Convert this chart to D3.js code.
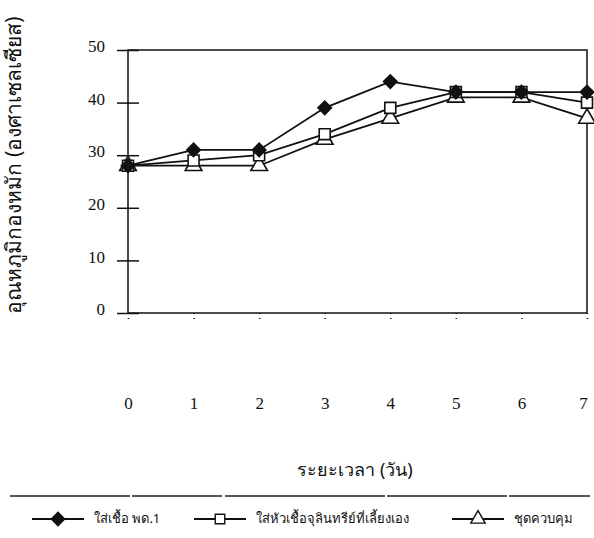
<!DOCTYPE html>
<html>
<head>
<meta charset="utf-8">
<script src="https://cdn.jsdelivr.net/npm/d3@7"></script>
<style>
  body { margin: 0; background: #fff; }
  svg { display: block; }
  text { font-family: "Liberation Serif", "DejaVu Serif", serif; fill: #111; }
  .thai { font-family: "Noto Sans", "DejaVu Sans", sans-serif; }
</style>
</head>
<body>
<div id="chart"></div>
<script>
// วัน
var days = [0, 1, 2, 3, 4, 5, 6, 7];
var yTicks = [0, 10, 20, 30, 40, 50];
// อุณหภูมิ
var seriesA = [28, 31, 31, 39, 44, 42, 42, 42];
var seriesB = [28, 29, 30, 34, 39, 42, 42, 40];
var seriesC = [28, 28, 28, 33, 37, 41, 41, 37];
var seriesNames = ["ใส่เชื้อ พด.1", "ใส่หัวเชื้อจุลินทรีย์ที่เลี้ยงเอง", "ชุดควบคุม"];
var yTitle = "อุณหภูมิกองหมัก (องศาเซลเซียส)";
var xTitle = "ระยะเวลา (วัน)";

var W = 594, H = 538;
var svg = d3.select("#chart").append("svg").attr("width", W).attr("height", H);

var x = d3.scaleLinear().domain([0, 7]).range([128, 587]);
var y = d3.scaleLinear().domain([0, 50]).range([313, 50]);

// frame
svg.append("rect")
    .attr("x", x(0)).attr("y", y(50))
    .attr("width", x(7) - x(0)).attr("height", y(0) - y(50))
    .style("fill", "none").style("stroke", "#111").style("stroke-width", 1.5);

// y axis, ticks cross the axis line
var yAxis = svg.append("g")
    .attr("transform", "translate(" + (x(0) + 11) + ",0)")
    .call(d3.axisLeft(y).tickValues(yTicks).tickSize(22).tickPadding(12).tickFormat(d3.format("d")));
yAxis.select(".domain").remove();
yAxis.selectAll("line").style("stroke", "#111").style("stroke-width", 1.5);
yAxis.selectAll("text").style("font-size", "17px").style("font-family", "Liberation Serif").attr("dy", "0.1em");

// x axis: small ticks under bottom line, labels further down
var xAxis = svg.append("g")
    .attr("transform", "translate(0," + y(0) + ")")
    .call(d3.axisBottom(x).tickValues(days).tickSize(6).tickPadding(78).tickFormat(d3.format("d")));
xAxis.select(".domain").remove();
xAxis.selectAll("line").style("stroke", "#111").style("stroke-width", 1.5).style("stroke-dasharray", "1,4");
xAxis.selectAll("text").style("font-size", "17px").style("font-family", "Liberation Serif")
    .attr("dx", function (d) { return d == 7 ? -4 : 0; });

// titles
svg.append("text").attr("class", "thai")
    .attr("transform", "translate(21,165) rotate(-90)")
    .attr("text-anchor", "middle")
    .style("font-size", "21px")
    .text(yTitle);
svg.append("text").attr("class", "thai")
    .attr("x", 355).attr("y", 476)
    .attr("text-anchor", "middle")
    .style("font-size", "18px")
    .text(xTitle);

var line = d3.line().x(function (d, i) { return x(days[i]); }).y(function (d) { return y(d); });
var allSeries = [seriesC, seriesB, seriesA];
var shapes = [d3.symbolTriangle, d3.symbolSquare, d3.symbolSquare];
var rot = [0, 0, 45];
var fills = ["#fff", "#fff", "#111"];
var sizes = [120, 120, 90];

allSeries.forEach(function (s) {
    svg.append("path").attr("d", line(s))
        .style("fill", "none").style("stroke", "#111").style("stroke-width", 1.8);
});
allSeries.forEach(function (s, k) {
    svg.selectAll(null).data(s).enter().append("path")
        .attr("transform", function (d, i) { return "translate(" + x(days[i]) + "," + y(d) + ") rotate(" + rot[k] + ")"; })
        .attr("d", d3.symbol().type(shapes[k]).size(sizes[k]))
        .style("fill", fills[k]).style("stroke", "#111").style("stroke-width", 1.6);
});

// legend
svg.append("line").attr("x1", 10).attr("x2", 590).attr("y1", 496).attr("y2", 496)
    .style("stroke", "#222").style("stroke-width", 1.3).style("stroke-dasharray", "120,2,90,3,160,2");
var legX = [32, 194, 452];
var legShapes = [d3.symbolSquare, d3.symbolSquare, d3.symbolTriangle];
var legRot = [45, 0, 0];
var legFills = ["#111", "#fff", "#fff"];
seriesNames.forEach(function (name, k) {
    var g = svg.append("g").attr("transform", "translate(" + legX[k] + ",519)");
    g.append("line").attr("x1", 0).attr("x2", 52)
        .style("stroke", "#111").style("stroke-width", 1.8);
    g.append("path").attr("transform", "translate(26,0) rotate(" + legRot[k] + ")")
        .attr("d", d3.symbol().type(legShapes[k]).size(90))
        .style("fill", legFills[k]).style("stroke", "#111").style("stroke-width", 1.4);
    g.append("text").attr("class", "thai")
        .attr("x", 62).attr("y", 4)
        .style("font-size", "13px")
        .text(name);
});
</script>
</body>
</html>
